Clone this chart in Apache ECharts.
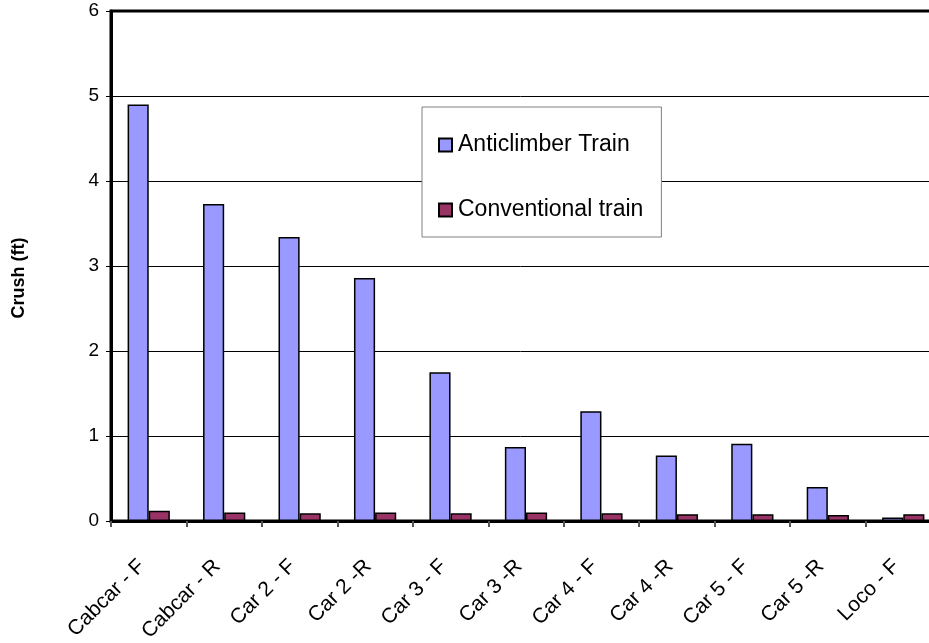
<!DOCTYPE html>
<html>
<head>
<meta charset="utf-8">
<script src="https://cdn.jsdelivr.net/npm/echarts@6/dist/echarts.min.js"></script>
<style>
  html, body { margin: 0; padding: 0; background: #fff; }
  #main { width: 929px; height: 643px; }
</style>
</head>
<body>
<div id="main"></div>
<script>
// data
var categories = ['Cabcar - F', 'Cabcar - R', 'Car 2 - F', 'Car 2 -R', 'Car 3 - F', 'Car 3 -R',
  'Car 4 - F', 'Car 4 -R', 'Car 5 - F', 'Car 5 -R', 'Loco - F'];
var anticlimber = [4.9, 3.73, 3.34, 2.86, 1.75, 0.87, 1.29, 0.77, 0.91, 0.40, 0.04];
var conventional = [0.12, 0.10, 0.09, 0.10, 0.09, 0.10, 0.09, 0.08, 0.08, 0.07, 0.08];
var yTicks = [0, 6, 1];

var chart = echarts.init(document.getElementById('main'));

var font = 'Liberation Sans, Arial, sans-serif';

var option = {
  animation: false,
  textStyle: { fontFamily: font },
  legend: {
    orient: 'vertical',
    left: 422,
    top: 107,
    padding: [25, 18, 14, 16],
    itemGap: 39,
    itemWidth: 13,
    itemHeight: 13,
    backgroundColor: '#fff',
    borderColor: '#808080',
    borderWidth: 1,
    borderRadius: 0,
    icon: 'rect',
    textStyle: { fontSize: 23, color: '#000', fontFamily: font, lineHeight: 26, padding: [0, 0, 0, 1] },
    data: ['Anticlimber Train', 'Conventional train']
  },
  grid: {
    left: 111,
    top: 11,
    bottom: 122,
    right: -12,
    show: true,
    borderColor: '#000',
    borderWidth: 3,
    containLabel: false,
    outerBoundsMode: 'none'
  },
  xAxis: {
    type: 'category',
    data: categories,
    axisLine: { lineStyle: { color: '#000', width: 3 } },
    axisTick: { show: true, length: 6, lineStyle: { color: '#555', width: 2 } },
    axisLabel: {
      rotate: 45, fontSize: 21, color: '#000', margin: 35, interval: 0,
      padding: [0, 10, 0, 0], fontFamily: font
    }
  },
  yAxis: {
    type: 'value',
    min: yTicks[0],
    max: yTicks[1],
    interval: yTicks[2],
    name: 'Crush (ft)',
    nameLocation: 'middle',
    nameGap: 83,
    nameTextStyle: { fontSize: 18, fontWeight: 'bold', color: '#000', fontFamily: font, padding: [0, 24, 0, 0] },
    axisLine: { show: true, lineStyle: { color: '#000', width: 3 } },
    axisTick: { show: true, inside: false, length: 5, lineStyle: { color: '#000', width: 1 } },
    axisLabel: { fontSize: 19, color: '#000', margin: 12, fontFamily: font },
    splitLine: { show: true, lineStyle: { color: '#000', width: 1 } }
  },
  series: [
    {
      name: 'Anticlimber Train',
      type: 'bar',
      data: anticlimber,
      barGap: '0%',
      barCategoryGap: '44%',
      itemStyle: { color: '#9999FF', borderColor: '#000', borderWidth: 1.5 }
    },
    {
      name: 'Conventional train',
      type: 'bar',
      data: conventional,
      barGap: '0%',
      barCategoryGap: '44%',
      itemStyle: { color: '#993366', borderColor: '#000', borderWidth: 1.5 }
    }
  ]
};

chart.setOption(option);
</script>
</body>
</html>
